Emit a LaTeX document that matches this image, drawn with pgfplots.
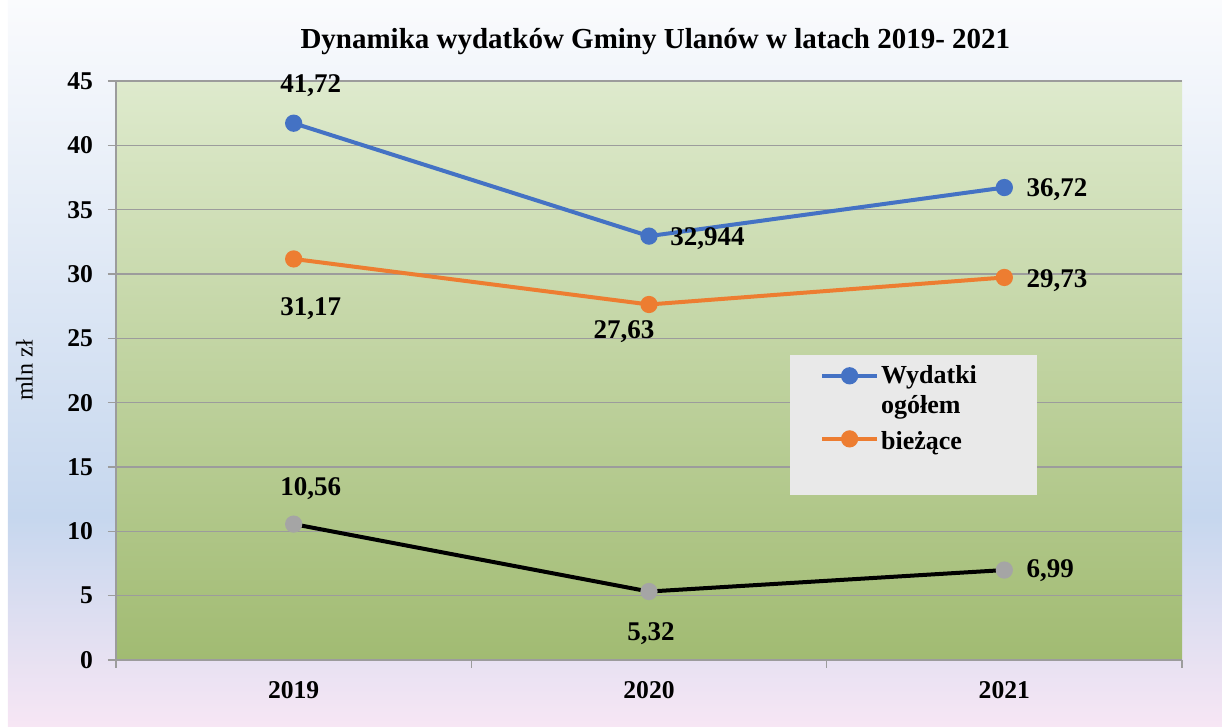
\documentclass[border=0pt]{standalone}
\usepackage{fontspec}
\setmainfont{Liberation Serif}
\usepackage{pgfplots}
\pgfplotsset{compat=1.18}

\definecolor{bgtop}{HTML}{FAFBFD}
\definecolor{bgblue}{HTML}{C6D7EE}
\definecolor{bgpink}{HTML}{F7E6F4}
\definecolor{pltop}{HTML}{DEEACD}
\definecolor{plbot}{HTML}{A1BB72}
\definecolor{gridc}{HTML}{9C9C9C}
\definecolor{sblue}{HTML}{4472C4}
\definecolor{sorange}{HTML}{ED7D31}
\definecolor{sgray}{HTML}{A5A5A5}
\definecolor{legfill}{HTML}{E9E9E9}

\pgfdeclareverticalshading{bgshade}{100bp}{color(0bp)=(bgpink); color(25bp)=(bgpink); color(39.5bp)=(bgblue); color(75bp)=(bgtop); color(100bp)=(bgtop)}

% data label: x, y, dx, dy, anchor, text
\newcommand{\lbl}[6]{\node[anchor=#5, inner sep=0pt, font=\fontsize{13.5}{15}\selectfont\bfseries]
  at ([xshift=#3, yshift=#4]axis cs:#1,#2) {#6};}

\begin{document}
\begin{tikzpicture}
\useasboundingbox (-58pt,-33.5pt) rectangle (553pt,330pt);
\shade[shading=bgshade] (-54pt,-33.5pt) rectangle (553pt,330pt);
\begin{axis}[
    at={(0,0)}, anchor=south west,
    scale only axis, width=533pt, height=289.5pt,
    xmin=-0.5, xmax=2.5, ymin=0, ymax=45,
    clip=false,
    axis background/.style={shade, top color=pltop, bottom color=plbot},
    axis x line*=bottom, axis y line*=left,
    axis line style={gridc, line width=0.7pt, -},
    tick align=outside, major tick length=4pt,
    tick style={gridc, line width=0.7pt},
    xtick={-0.5,0.5,1.5,2.5}, xticklabels={},
    extra x ticks={0,1,2}, extra x tick labels={2019,2020,2021},
    extra x tick style={major tick length=0pt, grid=none,
        xticklabel style={yshift=-7pt}},
    ytick={0,5,...,45},
    ymajorgrids, major grid style={gridc, line width=0.7pt},
    /pgf/number format/assume math mode=true,
    ticklabel style={font=\fontsize{12.8}{14}\selectfont\bfseries},
    yticklabel style={xshift=-4pt},
    title={Dynamika wydatków Gminy Ulanów w latach 2019- 2021},
    title style={at={(0.506,1)}, anchor=center, yshift=13.5pt,
        font=\fontsize{14.5}{16}\selectfont\bfseries},
    ylabel={mln zł},
    ylabel style={at={(axis description cs:-0.086,0.5)}, anchor=center,
        font=\fontsize{12}{14}\selectfont},
    legend style={at={(0.632,0.527)}, anchor=north west, fill=legfill, draw=none,
        font=\fontsize{13}{15}\selectfont\bfseries, inner xsep=15pt, inner ysep=4pt,
        row sep=2.5pt, column sep=0pt, nodes={inner sep=1pt}},
    legend cell align=left,
    legend image code/.code={
        \draw[mark repeat=2, mark phase=2, #1] plot coordinates {(0pt,0pt) (13.75pt,0pt) (27.5pt,0pt)};},
]
\addplot[sblue, line width=2pt, mark=*, mark size=3.3pt] coordinates {(0,41.72) (1,32.944) (2,36.72)};
\addlegendentry{Wydatki\hspace*{14pt}}
\addlegendimage{empty legend}
\addlegendentry{ogółem}
\addplot[sorange, line width=2pt, mark=*, mark size=3.3pt] coordinates {(0,31.17) (1,27.63) (2,29.73)};
\addlegendentry{\rule{0pt}{12pt}bieżące}
\addlegendimage{empty legend}
\addlegendentry{\rule{0pt}{10.5pt}}
\addplot[black, line width=2pt, mark=*, mark size=3.3pt, mark options={sgray, fill=sgray}, forget plot] coordinates {(0,10.56) (1,5.32) (2,6.99)};

\lbl{0}{41.72}{8.5pt}{19pt}{center}{41,72}
\lbl{1}{32.944}{10.5pt}{-1.5pt}{west}{32,944}
\lbl{2}{36.72}{11pt}{-1pt}{west}{36,72}
\lbl{0}{31.17}{8.5pt}{-25pt}{center}{31,17}
\lbl{1}{27.63}{-12.5pt}{-13.5pt}{center}{27,63}
\lbl{2}{29.73}{11pt}{-1.5pt}{west}{29,73}
\lbl{0}{10.56}{8.5pt}{18pt}{center}{10,56}
\lbl{1}{5.32}{1pt}{-21pt}{center}{5,32}
\lbl{2}{6.99}{11pt}{-0.5pt}{west}{6,99}
\end{axis}
\end{tikzpicture}
\end{document}
